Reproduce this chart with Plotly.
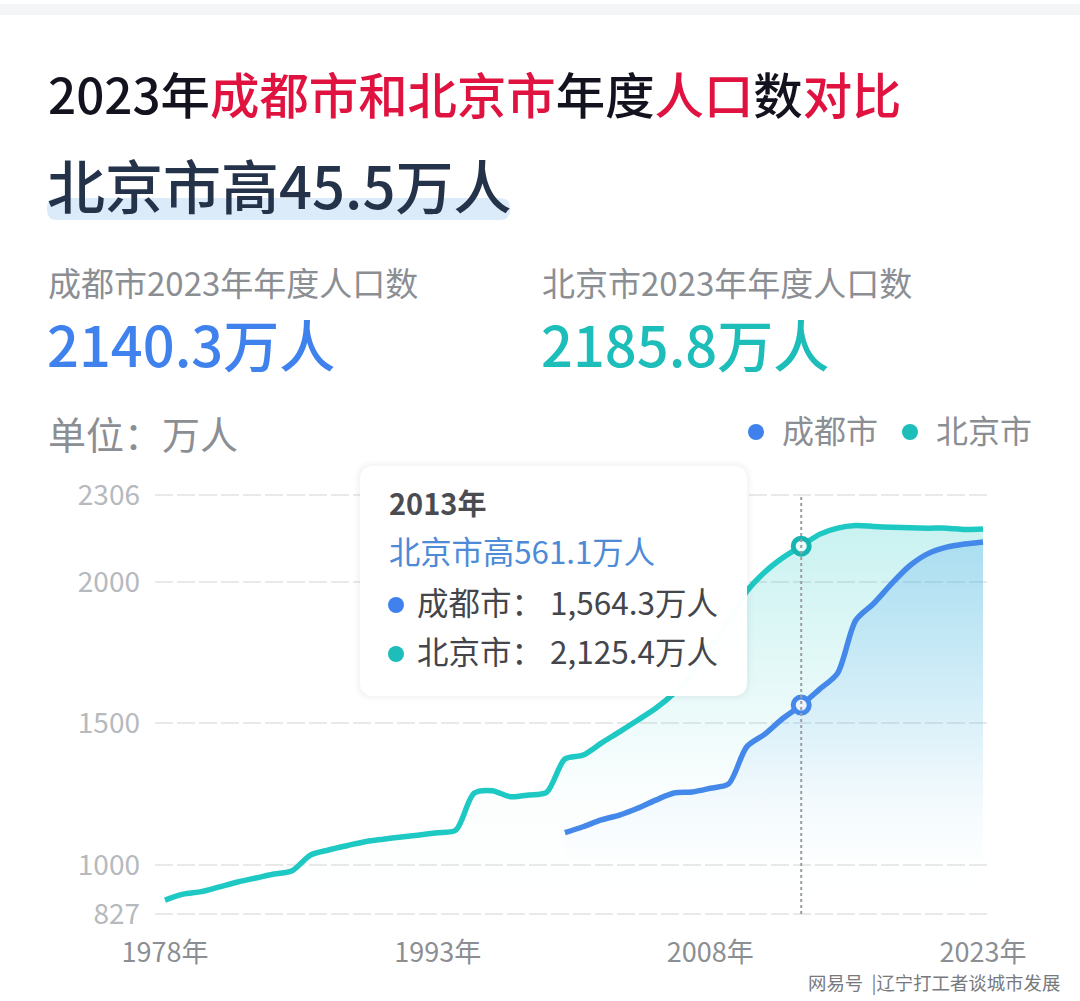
import plotly.graph_objects as go

years_bj = list(range(1978, 2024))
beijing = [876, 897, 906, 923, 940, 954, 968, 980, 1035, 1053, 1068, 1082, 1091, 1099, 1106, 1114, 1123,
           1253, 1262, 1241, 1247, 1257, 1374, 1388, 1430, 1470, 1511, 1553, 1606, 1676, 1771, 1860,
           1966, 2034, 2085, 2125.4, 2167, 2189, 2198, 2195, 2192, 2190, 2189, 2189, 2184.3, 2185.8]
years_cd = list(range(2000, 2024))
chengdu = [1114, 1135, 1159, 1176, 1200, 1229, 1254, 1258, 1271, 1286, 1417, 1462, 1518, 1564.3,
           1620, 1677, 1864, 1924, 1995, 2058, 2100, 2122, 2133, 2140.3]

y_ticks = [827, 1000, 1500, 2000, 2306]
x_ticks = [1978, 1993, 2008, 2023]
x_labels = ["1978年", "1993年", "2008年", "2023年"]
hover_year = 2013

W, H = 1080, 1001
BLUE = "#4488ea"
TEAL = "#1ec8c3"
GREY = "#8b8e93"
RED = "#e0123f"
INK = "#12131f"
FONT = "Noto Sans CJK SC, Noto Sans, sans-serif"


def fx(px):
    return px / W


def fy(py):
    return 1 - py / H


def label(px, py, text, size, color, weight=400, anchor="left"):
    return dict(x=fx(px), y=fy(py), xref="paper", yref="paper", text=text, showarrow=False,
                xanchor=anchor, yanchor="middle", align="left",
                font=dict(size=size, color=color, family=FONT, weight=weight))


def rounded(x0, y0, x1, y1, r, **kw):
    X0, X1, Y0, Y1 = fx(x0), fx(x1), fy(y0), fy(y1)
    rx, ry = r / W, r / H
    path = (f"M {X0+rx} {Y0} L {X1-rx} {Y0} Q {X1} {Y0} {X1} {Y0-ry} L {X1} {Y1+ry} Q {X1} {Y1} {X1-rx} {Y1} "
            f"L {X0+rx} {Y1} Q {X0} {Y1} {X0} {Y1+ry} L {X0} {Y0-ry} Q {X0} {Y0} {X0+rx} {Y0} Z")
    return dict(type="path", path=path, xref="paper", yref="paper", line=dict(width=0), **kw)


def dot(px, py, r, color):
    return dict(type="circle", xref="paper", yref="paper", x0=fx(px - r), x1=fx(px + r), y0=fy(py + r), y1=fy(py - r),
                fillcolor=color, line=dict(width=0), layer="above")


def span(text, color):
    return f'<span style="color:{color}">{text}</span>'


fig = go.Figure()

fig.add_trace(go.Scatter(
    x=years_bj, y=beijing, mode="lines", name="北京市", fill="tozeroy",
    line=dict(color=TEAL, width=5.5, shape="spline", smoothing=0.8),
    fillgradient=dict(type="vertical", start=827, stop=2198,
                      colorscale=[[0, "rgba(30,200,195,0)"], [0.3, "rgba(30,200,195,0.015)"],
                                  [1, "rgba(30,200,195,0.24)"]]),
))
fig.add_trace(go.Scatter(
    x=years_cd, y=chengdu, mode="lines", name="成都市", fill="tozeroy",
    line=dict(color=BLUE, width=5.5, shape="spline", smoothing=0.8),
    fillgradient=dict(type="vertical", start=1000, stop=2140,
                      colorscale=[[0, "rgba(70,160,240,0)"], [1, "rgba(70,160,240,0.25)"]]),
))

# ringed points at the hovered year
fig.add_trace(go.Scatter(
    x=[hover_year], y=[beijing[years_bj.index(hover_year)]], mode="markers",
    marker=dict(size=16, color="#eafbfa", line=dict(color="#17b5b1", width=5)),
))
fig.add_trace(go.Scatter(
    x=[hover_year], y=[chengdu[years_cd.index(hover_year)]], mode="markers",
    marker=dict(size=16, color="#eaf3fd", line=dict(color=BLUE, width=5)),
))

shapes = [
    dict(type="rect", xref="paper", yref="paper", x0=0, x1=1, y0=fy(15), y1=fy(4),
         fillcolor="#f4f5f7", line=dict(width=0), layer="below"),
    rounded(47, 198, 510, 220, 10, fillcolor="#dcebfa", layer="below"),
    dict(type="line", xref="x", yref="y", x0=hover_year, x1=hover_year, y0=y_ticks[0], y1=y_ticks[-1],
         line=dict(color="#9a9da3", width=2, dash="dot"), layer="above"),
    dot(756, 432, 8, "#3f82ee"),
    dot(910, 432, 8, "#1dbdb9"),
]
# soft shadow then tooltip box
for grow, alpha in [(6, 0.012), (4, 0.016), (2, 0.022)]:
    shapes.append(rounded(360 - grow, 466 - grow, 747 + grow, 696 + grow, 14 + grow,
                          fillcolor=f"rgba(60,70,90,{alpha})", layer="above"))
shapes.append(rounded(360, 466, 747, 696, 14, fillcolor="rgba(255,255,255,0.98)", layer="above"))
shapes.append(dot(396, 605, 8, "#3f82ee"))
shapes.append(dot(396, 654, 8, "#1dbdb9"))

title = (span("2023年", INK) + span("成都市和北京市", RED) + span("年度", INK) + span("人口", RED)
         + span("数", INK) + span("对比", RED))

annotations = [
    label(46, 93, title, 49.4, INK, 500),
    label(45, 184, "北京市高45.5万人", 58, "#25334a", 500),
    label(46, 282, "成都市2023年年度人口数", 33, GREY),
    label(540, 282, "北京市2023年年度人口数", 33, GREY),
    label(45, 342, "2140.3万人", 56, "#3f82ee", 500),
    label(539, 342, "2185.8万人", 56, "#1dbdb9", 500),
    label(46, 432, "单位：万人", 38, GREY),
    label(780, 429, "成都市", 32, GREY),
    label(934, 429, "北京市", 32, GREY),
    label(387, 502, "2013年", 29, "#4a4c52", 700),
    label(387, 550, "北京市高561.1万人", 31.3, "#4d8ad8"),
    label(415, 601, "成都市： 1,564.3万人", 31.5, "#44464b"),
    label(415, 650, "北京市： 2,125.4万人", 31.5, "#44464b"),
    label(806, 982, "网易号  |辽宁打工者谈城市发展", 18.4, "#77797d"),
]

fig.update_layout(
    width=W, height=H, margin=dict(l=0, r=0, t=0, b=0, pad=0, autoexpand=False), showlegend=False,
    paper_bgcolor="white", plot_bgcolor="white", font=dict(family=FONT),
    shapes=shapes, annotations=annotations, hovermode=False,
    xaxis=dict(domain=[fx(155), fx(990)], range=[1977.45, 2023.385], tickmode="array",
               tickvals=x_ticks, ticktext=x_labels, showgrid=False, zeroline=False, showline=False,
               ticks="", ticklabelstandoff=18, tickfont=dict(size=27, color=GREY)),
    # range runs past the end ticks, plotly drops gridlines within 1px of the axis ends
    yaxis=dict(domain=[fy(915.7), fy(493.3)], range=[821, 2312], tickmode="array",
               tickvals=y_ticks, showgrid=True, gridcolor="#e9e9ea", gridwidth=2, griddash="18px,4px",
               zeroline=False, showline=False, ticks="", ticklabelstandoff=14, tickformat="d",
               tickfont=dict(size=28, color="#b6b9bd")),
)

fig.write_html("out.html", config=dict(displayModeBar=False),
               post_script="document.body.style.margin='0';document.body.style.overflow='hidden';")
